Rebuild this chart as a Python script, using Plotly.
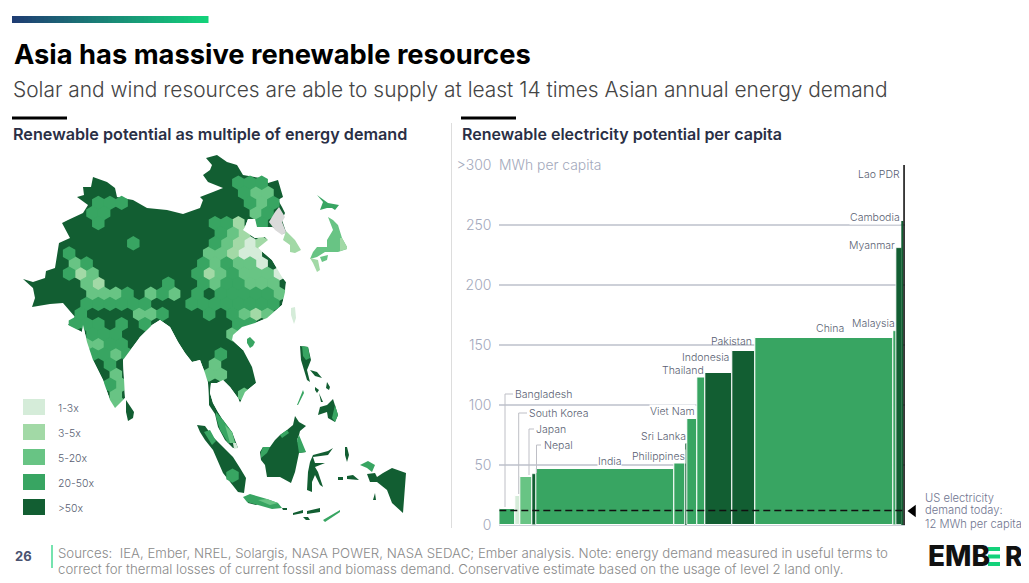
"""Asia renewable resources slide: hex map on the left, population-width bars on the right."""

import plotly.graph_objects as go

# the page keeps its 8px body margin, so the figure covers only the rest of the window
PAGE_MARGIN = 8
W, H = 1029, 583
FONT = "Inter"

DARK = "#125E32"
C2050 = "#38A562"
C520 = "#68C484"
C35 = "#A2D9A6"
C13 = "#D5ECD9"
GREY = "#DADADA"

# bars: population (millions) sets the width, MWh per capita the height
countries = ["Bangladesh", "South Korea", "Japan", "Nepal", "India", "Philippines", "Sri Lanka",
             "Viet Nam", "Thailand", "Indonesia", "Pakistan", "China", "Malaysia", "Myanmar",
             "Cambodia", "Lao PDR"]
population = [163, 49, 120, 33, 1386, 112, 19, 95, 80, 270, 233, 1382, 30, 53, 17, 13]
potential = [13, 24.5, 40, 42.5, 46.7, 52.5, 68.6, 88, 123.6, 127, 145, 156, 161.7, 230.6, 253, 320]
bar_colors = [C2050, C13, C520, DARK, C2050, C2050, DARK, C2050, C2050, DARK, DARK, C2050, C2050,
              DARK, DARK, "#050505"]
bar_lines = [1, 1, 1, 0.6, 1, 1, 0, 1, 1, 1, 1, 1, 0.6, 0.8, 0, 0]
y_ticks = [0, 50, 100, 150, 200, 250, 300]
y_labels = ["0", "50", "100", "150", "200", "250", ">300"]
us_demand = 12

legend_labels = ["1-3x", "3-5x", "5-20x", "20-50x", ">50x"]
legend_colors = [C13, C35, C520, C2050, DARK]

# hex cells as (row, column) on the map's grid, per class. Everything else on land is >50x.
hex_1_3 = [(0, 10), (1, 9), (1, 10), (2, 11), (3, 12)]
hex_3_5 = [(3, -5), (4, -3), (3, 6), (-2, 9), (-1, 9), (0, 9), (0, 11), (1, 8), (7, 10)]
hex_5_20 = [(2, -5), (3, -4), (4, -4), (5, -4), (5, -3), (5, -2), (5, 1), (5, 3), (7, 0), (7, 1),
            (10, -4), (10, -3), (11, -2), (13, -2), (14, -1), (15, -2), (16, -2), (16, -1),
            (12, 7), (13, 6), (13, 7),
            (15, 9), (-5, 10), (-5, 11), (-4, 11), (-3, 10), (-1, 8), (0, 8), (1, 6), (1, 7),
            (2, 7), (2, 9), (2, 10), (3, 7), (3, 9), (3, 10), (3, 11), (4, 7), (4, 10), (4, 11),
            (4, 12), (5, 12), (7, 9), (7, 11), (9, 8)]
hex_20_50 = [(-4, -3), (-4, -2), (-4, -1), (-3, -4), (-3, -3), (-2, -3), (0, 0), (1, -6), (2, -4),
             (3, -6), (4, 3), (5, -1), (5, 2), (6, -4), (6, -3), (6, -2), (6, -1), (6, 0), (6, 1),
             (7, -5), (7, 2), (8, -5), (8, -4), (8, -3), (8, -1), (8, 1), (9, -4), (9, -3), (9, -2),
             (10, -2), (10, -1), (11, -4), (11, -3), (11, -1), (12, -2), (14, -2), (11, 7), (23, 8),
             (-6, 9), (-6, 10), (-6, 11), (-5, 9), (-4, 10), (-4, 12), (-3, 11), (-2, 7), (-2, 8),
             (-2, 11), (-1, 7), (0, 7), (2, 6), (2, 8), (3, 5), (3, 8), (4, 6), (4, 8), (4, 9),
             (5, 5), (5, 7), (5, 8), (5, 9), (5, 10), (5, 11), (6, 5), (6, 6), (6, 7), (6, 8),
             (6, 9), (6, 10), (6, 11), (6, 12), (7, 6), (7, 8), (8, 9), (8, 10)]
hex_classes = [(hex_1_3, C13), (hex_3_5, C35), (hex_5_20, C520), (hex_20_50, C2050)]

# outlines, map coordinates
mainland = [(23, 279), (33, 282), (45, 278), (46, 271), (55, 268), (57, 257), (59, 243), (70, 238),
            (62, 223), (68, 220), (83, 213), (88, 205), (77, 197), (84, 195), (83, 187), (91, 187),
            (93, 177), (107, 182), (115, 188), (117, 197), (133, 200), (147, 208), (167, 210),
            (183, 214), (200, 208), (203, 200), (200, 197), (213, 192), (223, 188), (208, 182),
            (203, 175), (210, 170), (212, 165), (206, 158), (217, 155), (227, 162), (237, 165),
            (243, 175), (260, 178), (268, 183), (278, 180), (283, 197), (278, 200), (282, 207),
            (285, 213), (282, 220), (286, 232), (282, 235), (272, 227), (267, 228), (257, 227),
            (255, 219), (248, 219), (245, 227), (243, 230), (255, 238), (265, 237), (268, 240),
            (258, 248), (272, 260), (282, 277), (286, 282), (285, 292), (282, 305), (267, 318),
            (255, 323), (242, 327), (233, 335), (232, 340), (243, 350), (252, 367), (256, 383),
            (245, 392), (240, 403), (238, 398), (230, 387), (223, 380), (217, 383), (211, 383),
            (210, 393), (213, 403), (218, 412), (223, 420), (232, 432), (235, 440), (238, 448),
            (233, 448), (225, 440), (218, 427), (215, 414), (209, 405), (208, 383), (205, 373),
            (200, 360), (192, 362), (185, 353), (178, 342), (170, 327), (160, 320), (152, 325),
            (140, 337), (138, 340), (123, 360), (125, 398), (115, 408), (110, 400), (103, 380),
            (93, 360), (87, 342), (83, 325), (82, 332), (68, 325), (75, 317), (63, 303), (50, 304),
            (32, 307), (35, 298), (33, 288)]
sri_lanka = [(126, 400), (134, 412), (133, 418), (128, 421), (126, 412)]
sumatra = [(197, 425), (205, 426), (213, 437), (223, 447), (233, 457), (240, 468), (246, 478),
           (244, 493), (238, 492), (223, 473), (213, 450), (205, 440), (200, 432)]
borneo = [(295, 416), (299, 422), (306, 426), (300, 431), (299, 435), (297, 440), (300, 447),
          (306, 452), (299, 453), (297, 462), (295, 472), (291, 483), (286, 480), (280, 477),
          (267, 477), (265, 465), (261, 460), (260, 452), (263, 447), (270, 447), (275, 440),
          (280, 435), (287, 430), (293, 425)]
sulawesi = [(333, 448), (328, 455), (313, 457), (315, 463), (325, 463), (315, 467), (318, 472),
            (323, 487), (320, 485), (315, 475), (312, 482), (312, 492), (307, 490), (308, 472),
            (310, 462), (313, 455), (328, 451)]
new_guinea = [(392, 468), (406, 473), (403, 513), (397, 508), (392, 503), (387, 490), (377, 482),
              (370, 482), (367, 474), (375, 473), (377, 477), (383, 473)]
mindanao = [(333, 399), (338, 415), (335, 422), (328, 418), (327, 412), (318, 415), (320, 407),
            (327, 405)]
luzon_edge = [(300, 346), (308, 347), (311, 360), (307, 370), (310, 382), (307, 380), (304, 370),
              (301, 360)]
visayas_a = [(315, 387), (319, 390), (317, 393), (315, 390)]
visayas_b = [(327, 382), (330, 387), (329, 390), (326, 388)]
visayas_c = [(319, 393), (323, 402), (321, 402)]
visayas_d = [(310, 370), (317, 372), (322, 378), (315, 376)]
seram = [(347, 476), (353, 475), (359, 480), (347, 479)]
buru = [(338, 477), (343, 477), (343, 480), (338, 480)]
halmahera = [(345, 447), (347, 447), (349, 455), (347, 462), (345, 455)]
flores = [(307, 511), (320, 508), (320, 512), (307, 514)]
sumbawa = [(293, 513), (303, 510), (303, 513), (293, 515)]
sumba = [(303, 517), (308, 517), (310, 520), (306, 520)]
aru = [(375, 493), (376, 500), (373, 500)]
java_w = [(247, 501), (258, 504), (256, 505), (248, 503)]
bali = [(282, 508), (287, 508), (287, 510), (283, 510)]
dark_islands = [sumatra, borneo, sulawesi, new_guinea, mindanao, luzon_edge, visayas_a,
                visayas_b, visayas_c, visayas_d, seram, buru, halmahera, flores, sumbawa, sumba,
                aru]
dark_late = [sri_lanka, java_w, bali]

# open water that trims the hexes back to the coast
sea_east = [(245, 227), (243, 230), (255, 238), (265, 237), (268, 240), (258, 248), (272, 260),
            (282, 277), (286, 282), (285, 292), (282, 305), (267, 318), (255, 323), (242, 327),
            (233, 335), (232, 340), (243, 350), (296, 350), (298, 300), (298, 260), (286, 235),
            (272, 227), (257, 227), (255, 219), (248, 219)]
sea_arabian = [(82, 332), (83, 325), (87, 342), (93, 360), (103, 380), (110, 400), (115, 408),
               (115, 425), (50, 425), (50, 345), (68, 325)]
sea_bengal = [(115, 408), (125, 398), (123, 360), (138, 340), (140, 337), (152, 325), (160, 320),
              (170, 327), (178, 342), (185, 353), (192, 362), (200, 360), (205, 373), (208, 383),
              (209, 405), (205, 420), (115, 420)]
sea_siam = [(256, 383), (245, 392), (240, 403), (238, 398), (230, 387), (223, 380), (217, 383),
            (211, 383), (210, 393), (213, 403), (218, 412), (223, 420), (240, 420), (262, 395)]
seas = [sea_east, sea_arabian, sea_bengal, sea_siam]

java = [(243, 497), (250, 494), (267, 499), (278, 503), (282, 508), (272, 509), (258, 505), (247, 502)]
luzon = [(302, 346), (308, 347), (310, 358), (306, 360), (303, 356)]
palawan = [(303, 390), (304, 393), (298, 405), (297, 405)]
hokkaido = [(317, 195), (328, 203), (339, 205), (335, 210), (332, 208), (327, 208), (320, 210), (323, 202)]
sumatra_patch = [(204, 432), (210, 430), (216, 441), (212, 445)]
malaya = [(216, 412), (223, 420), (232, 432), (235, 443), (228, 443), (220, 430), (216, 417)]
borneo_west = [(261, 452), (263, 447), (270, 447), (267, 453), (261, 458)]
borneo_north = [(280, 435), (287, 430), (289, 433), (282, 438)]
borneo_east = [(299, 435), (306, 452), (299, 453), (297, 440)]
ternate = [(360, 465), (368, 461), (375, 465), (372, 472), (367, 468)]
hainan = [(250, 337), (255, 342), (253, 346), (250, 348), (247, 343), (247, 339)]
mindanao_east = [(335, 405), (338, 415), (335, 422), (332, 418)]
timor = [(323, 520), (340, 510), (340, 512), (325, 522)]
green_islands = [java, luzon, palawan, hokkaido, sumatra_patch, malaya, borneo_west, borneo_north,
                 borneo_east, ternate, hainan, mindanao_east, timor]

honshu = [(328, 217), (333, 220), (338, 225), (342, 238), (347, 247), (347, 249), (338, 252),
          (332, 252), (325, 252), (317, 257), (310, 259), (313, 252), (317, 247), (327, 247),
          (327, 240), (333, 230)]
shikoku = [(320, 257), (328, 255), (327, 260), (322, 262)]
malaya_south = [(225, 425), (232, 432), (235, 443), (230, 443)]
java_east = [(258, 500), (267, 499), (278, 503), (270, 505)]
mid_islands = [honshu, shikoku, malaya_south, java_east]

kyushu = [(310, 258), (318, 260), (320, 270), (317, 272), (313, 263)]
south_korea = [(286, 231), (295, 240), (301, 250), (295, 253), (290, 252), (290, 245), (283, 240)]
honshu_east = [(340, 238), (342, 238), (347, 247), (347, 249), (340, 251)]
light_islands = [kyushu, south_korea, honshu_east]

taiwan = [(291, 308), (295, 307), (296, 318), (294, 324), (291, 315)]
malaya_tip = [(233, 443), (236, 443), (238, 448), (234, 449)]
pale_islands = [taiwan, malaya_tip]

north_korea = [(279, 207), (285, 217), (282, 222), (286, 232), (282, 235), (275, 230), (269, 222), (275, 212)]

# pixels the bar area sits on, in window coordinates
BAR_LEFT, BAR_RIGHT, BAR_TOP, BAR_BASE = 499.3, 904.8, 165, 525


def polygon_trace(polygons, color):
    xs, ys = [], []
    for poly in polygons:
        xs += [p[0] for p in poly] + [poly[0][0], None]
        ys += [p[1] for p in poly] + [poly[0][1], None]
    return go.Scatter(x=xs, y=ys, mode="lines", fill="toself", fillcolor=color, line=dict(width=0),
                      xaxis="x2", yaxis="y2", hoverinfo="skip", showlegend=False)


def hex_trace(cells, color):
    xs = [133.3 + 11.67 * (c + 0.5 * (r % 2)) for r, c in cells]
    ys = [243.3 + 10.1 * r for r, c in cells]
    return go.Scatter(x=xs, y=ys, mode="markers", xaxis="x2", yaxis="y2", hoverinfo="skip",
                      showlegend=False,
                      marker=dict(symbol="hexagon", size=14.4, color=color, line=dict(width=0)))


def label(text, x, y, size=10.5, color="#5A5F73", anchor="left", weight=300, bg=None, family=FONT):
    return dict(text=text, x=x, y=y, xref="x2", yref="y2", showarrow=False, xanchor=anchor,
                yanchor="middle", align=anchor, bgcolor=bg, borderpad=0,
                font=dict(family=family, size=size, color=color, weight=weight))


def box(x0, y0, x1, y1, color):
    return dict(type="rect", xref="x2", yref="y2", x0=x0, y0=y0, x1=x1, y1=y1,
                fillcolor=color, line=dict(width=0), layer="above")


def seg(x0, y0, x1, y1, color="#BEBFC6", width=1):
    return dict(type="line", xref="x2", yref="y2", x0=x0, y0=y0, x1=x1, y1=y1,
                line=dict(color=color, width=width), layer="above")


lefts = [sum(population[:i]) for i in range(len(population))]
centres = [l + w / 2 for l, w in zip(lefts, population)]

fig = go.Figure()
fig.add_trace(go.Bar(x=centres, y=potential, width=population, showlegend=False,
                     marker=dict(color=bar_colors, line=dict(color="white", width=bar_lines))))
fig.add_trace(go.Scatter(x=[0, sum(population) - 8], y=[us_demand, us_demand], mode="lines",
                         showlegend=False, line=dict(color="#111111", width=1.5, dash="7px 4px")))

fig.add_trace(polygon_trace([mainland] + dark_islands, DARK))
for cells, color in hex_classes:
    fig.add_trace(hex_trace(cells, color))
fig.add_trace(polygon_trace(seas, "white"))
fig.add_trace(polygon_trace(dark_late, DARK))
fig.add_trace(polygon_trace(green_islands, C2050))
fig.add_trace(polygon_trace(mid_islands, C520))
fig.add_trace(polygon_trace(light_islands, C35))
fig.add_trace(polygon_trace(pale_islands, C13))
fig.add_trace(polygon_trace([north_korea], GREY))
fig.add_trace(go.Scatter(x=[913], y=[511], mode="markers", xaxis="x2", yaxis="y2", showlegend=False,
                         hoverinfo="skip",
                         marker=dict(symbol="triangle-left", size=11, color="black")))

shapes = []
# gradient rule above the title
steps = 49
for i in range(steps):
    t = i / (steps - 1)
    shade = "rgb({},{},{})".format(round(31 + (19 - 31) * t), round(61 + (210 - 61) * t),
                                   round(115 + (122 - 115) * t))
    shapes.append(box(12 + 4 * i, 16, 12 + 4 * (i + 1) + 0.5, 23, shade))
shapes += [box(12, 116.5, 67, 119.5, "black"), box(461, 116.5, 516, 119.5, "black"),
           seg(451.5, 123, 451.5, 528, "#DDDDDD", 1),
           seg(52, 545, 52, 568, "#1AD07A", 1.2),
           box(988, 547, 1000, 551, "#13D27A"), box(988, 554.5, 1000, 558.5, "#13D27A"),
           box(988, 562, 1000, 566, "#13D27A")]
for i, color in enumerate(legend_colors):
    shapes.append(box(23, 399 + 25 * i, 45, 415 + 25 * i, color))
# leader lines
shapes += [seg(505, 507, 505, 394), seg(505, 394, 513, 394),
           seg(518.7, 494, 518.7, 413), seg(518.7, 413, 527, 413),
           seg(529, 475, 529, 429), seg(529, 429, 534, 429),
           seg(536.5, 473, 536.5, 445), seg(536.5, 445, 541, 445)]

annotations = [
    label("Asia has massive renewable resources", 13, 54.5, size=27.3, color="black", weight=700),
    label("Solar and wind resources are able to supply at least 14 times Asian annual energy demand",
          12, 89, size=20.9, color="#444444"),
    label("Renewable potential as multiple of energy demand", 12, 134, size=16.2, color="#2A2F45", weight=600),
    label("Renewable electricity potential per capita", 461, 134, size=16, color="#2A2F45", weight=600),
    label("MWh per capita", 498, 165, size=13.9, color="#A3A9BC", bg="white"),
    label("26", 14, 556, size=13, color="#4A5370", weight=700),
    label("Sources:  IEA, Ember, NREL, Solargis, NASA POWER, NASA SEDAC; Ember analysis. Note: energy demand measured in useful terms to",
          57, 553, size=13.25, color="#8A8A8A"),
    label("correct for thermal losses of current fossil and biomass demand. Conservative estimate based on the usage of level 2 land only.",
          57, 569, size=13.25, color="#8A8A8A"),
    label("EMB", 927, 556, size=28, color="#111111", weight=800),
    label("R", 1004, 556, size=26.5, color="#111111", weight=800),
    label("US electricity", 924, 498, size=11.2, color="#6F7590"),
    label("demand today:", 924, 510, size=11.2, color="#6F7590"),
    label("12 MWh per capita", 924, 524, size=11.2, color="#6F7590"),
]
for i, text in enumerate(legend_labels):
    annotations.append(label(text, 57, 408 + 25 * i, size=10.5, color="#5A5F73"))

# country labels: right edge, except the four that hang off a leader line
annotations += [
    label("Bangladesh", 514, 394), label("South Korea", 528, 413), label("Japan", 535, 429),
    label("Nepal", 543, 445),
    label("India", 622, 461, anchor="right", bg="white"),
    label("Philippines", 686, 456, anchor="right", bg="white"),
    label("Sri Lanka", 687, 436, anchor="right", bg="white"),
    label("Viet Nam", 696, 411, anchor="right", bg="white"),
    label("Thailand", 705, 370, anchor="right", bg="white"),
    label("Indonesia", 730, 357, anchor="right", bg="white"),
    label("Pakistan", 753, 341, anchor="right"),
    label("China", 845, 328, anchor="right"),
    label("Malaysia", 896, 323, anchor="right"),
    label("Myanmar", 896, 245, anchor="right", bg="white"),
    label("Cambodia", 901, 217, anchor="right", bg="white"),
    label("Lao PDR", 901, 174, anchor="right"),
]

FW, FH = W - PAGE_MARGIN, H - PAGE_MARGIN


def frac_x(px):
    return (px - PAGE_MARGIN) / FW


def frac_y(px):
    return 1 - (px - PAGE_MARGIN) / FH


fig.update_layout(
    width=FW, height=FH, margin=dict(l=0, r=0, t=0, b=0, autoexpand=False),
    paper_bgcolor="white", plot_bgcolor="rgba(0,0,0,0)",
    bargap=0, barmode="overlay", shapes=shapes, annotations=annotations,
    font=dict(family=FONT),
    xaxis=dict(domain=[frac_x(BAR_LEFT), frac_x(BAR_RIGHT)], range=[0, sum(population)], visible=False),
    yaxis=dict(domain=[frac_y(BAR_BASE), frac_y(BAR_TOP)], range=[0, 300], tickvals=y_ticks, ticktext=y_labels,
               ticks="outside", ticklen=4, tickcolor="rgba(0,0,0,0)", showline=False,
               tickfont=dict(family=FONT, size=14, color="#A3A9BC", weight=300),
               showgrid=True, gridcolor="#CDD0D8", gridwidth=1.5, zeroline=True, zerolinecolor="#CDD0D8",
               zerolinewidth=1.5),
    xaxis2=dict(domain=[0, 1], range=[PAGE_MARGIN, W], visible=False, anchor="y2"),
    yaxis2=dict(domain=[0, 1], range=[H, PAGE_MARGIN], visible=False, anchor="x2"),
)

fig.write_html("out.html")
